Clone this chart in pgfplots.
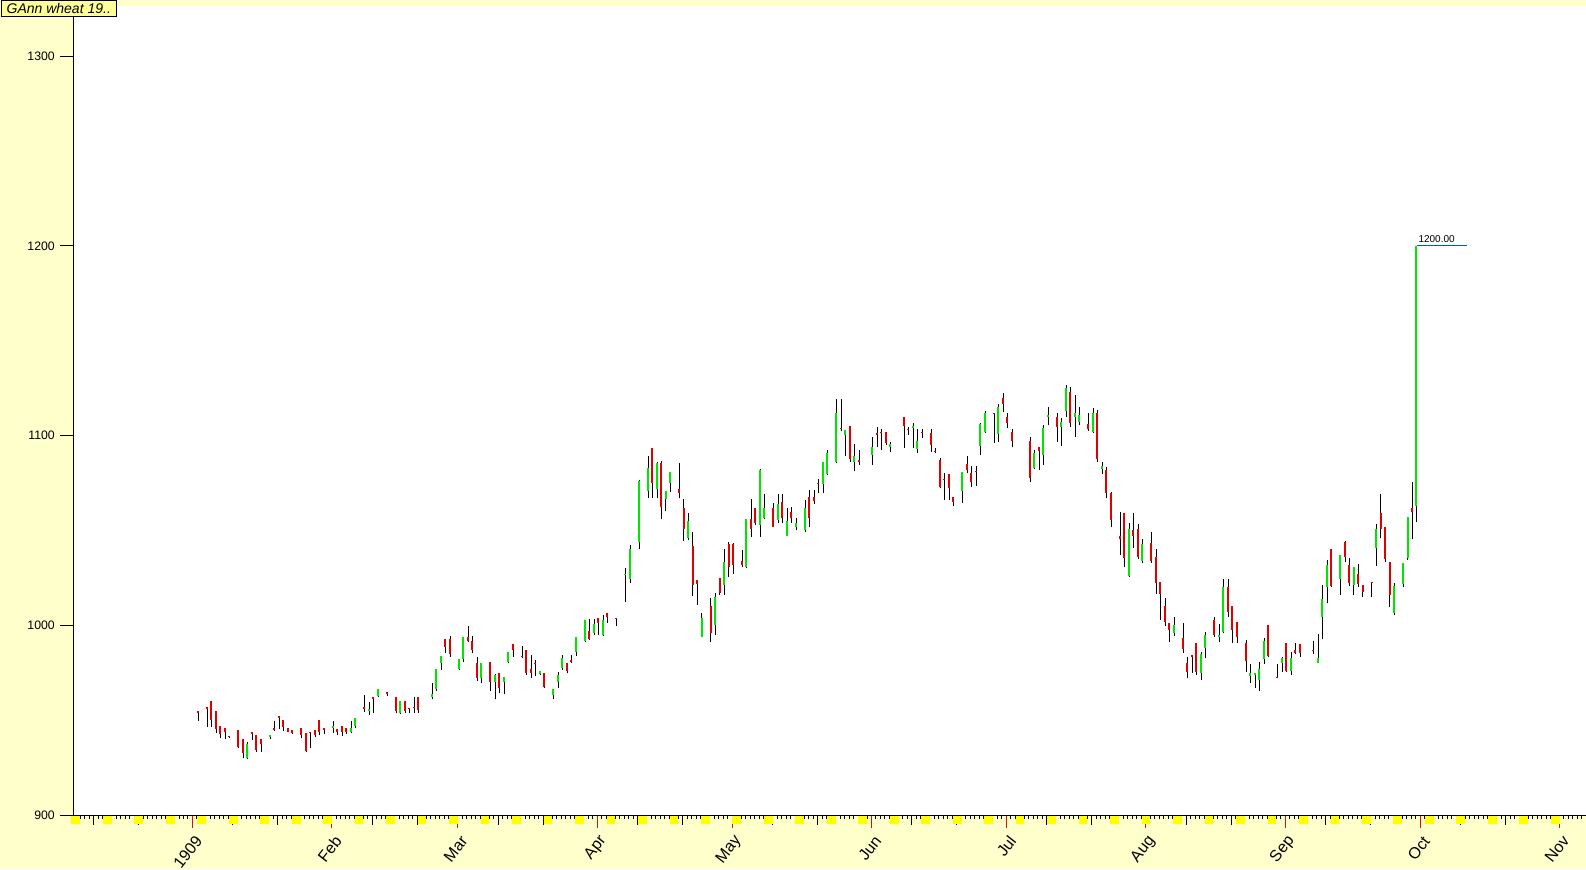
\documentclass[border=0pt]{standalone}
\usepackage{fontspec}
\setmainfont{Liberation Sans}
\usepackage{pgfplots}
\usepackage{pgfplotstable}
\pgfplotsset{compat=1.18}

\definecolor{bgyellow}{RGB}{255,255,204}
\definecolor{titleyellow}{RGB}{255,255,153}
\definecolor{sunyellow}{RGB}{255,255,0}
\definecolor{upgreen}{RGB}{0,230,0}
\definecolor{downred}{RGB}{225,0,0}
\definecolor{monthred}{RGB}{200,20,20}
\definecolor{targetline}{RGB}{0,102,128}

% day = days since 1 Jan 1909, o h l c
\pgfplotstableread{
d o h l c
1 954.8 954.8 949.7 953.9
3 956.7 957.1 946.6 956.0
4 960.1 960.1 946.6 950.1
5 954.8 954.8 943.0 945.2
6 946.9 946.9 940.8 942.5
7 945.9 945.9 939.9 943.7
8 941.9 941.9 940.8 941.2
10 944.8 944.8 935.1 935.7
11 940.1 940.1 929.9 932.5
12 929.9 938.5 929.4 937.5
13 943.6 943.6 939.5 942.8
14 942.2 942.2 933.4 934.2
15 940.1 940.1 933.4 937.2
17 941.3 942.3 939.9 942.3
18 946.0 949.5 944.3 944.8
19 952.2 952.2 945.3 951.0
20 950.1 950.1 944.4 946.2
21 945.9 945.9 943.5 943.7
22 944.8 944.8 942.8 943.0
24 945.9 945.9 940.4 942.2
25 943.2 943.2 933.2 933.7
26 943.8 943.8 935.5 943.0
27 944.8 944.8 940.9 942.2
28 950.1 950.1 942.2 943.9
29 945.9 945.9 942.7 944.8
31 945.9 949.5 943.4 946.9
32 945.2 945.2 942.0 943.7
33 946.9 946.9 941.8 943.9
34 945.7 945.7 942.7 943.7
35 943.7 949.5 943.0 945.9
36 946.9 951.1 945.7 951.1
38 957.1 963.2 954.5 955.9
39 955.0 959.7 952.7 955.9
40 962.4 962.4 953.6 961.1
41 962.7 966.2 962.0 966.2
43 964.8 965.0 962.7 964.0
45 962.3 962.3 953.5 955.0
46 953.5 960.1 953.0 960.1
47 960.1 960.1 953.5 955.0
48 956.3 956.3 954.0 955.8
49 957.0 962.3 954.0 956.5
50 962.3 962.3 954.0 955.5
53 962.4 969.4 960.9 963.6
54 966.2 976.9 965.5 976.9
55 979.9 983.9 976.4 983.9
56 992.6 992.6 985.2 988.7
57 992.6 994.3 983.4 985.0
59 976.8 982.4 976.4 982.4
60 982.0 994.0 980.8 994.0
61 994.0 999.6 991.4 991.9
62 991.9 994.3 985.2 986.9
63 980.3 983.4 970.6 972.0
64 972.0 980.3 969.7 980.3
66 980.5 980.5 965.5 970.3
67 970.3 974.3 960.9 973.8
68 974.7 974.7 964.1 966.7
69 970.3 972.6 963.6 972.6
70 980.8 986.1 979.9 986.1
71 990.1 990.1 983.4 986.9
73 983.9 989.2 982.6 983.1
74 986.9 986.9 973.8 975.0
75 976.8 984.3 972.0 975.0
76 980.3 981.7 973.3 979.6
77 974.3 976.1 973.8 976.1
78 975.0 975.0 966.7 967.3
80 963.2 966.2 960.9 966.2
81 970.3 975.5 966.7 973.8
82 977.3 984.3 976.4 982.6
83 980.3 980.3 974.7 976.1
84 981.5 984.3 979.9 980.9
85 986.1 994.0 983.8 994.0
87 991.9 1002.8 991.4 1002.8
88 997.0 1003.1 992.2 992.8
89 996.1 1003.1 994.9 1000.5
90 1003.6 1003.6 994.9 1001.4
91 994.9 1005.4 994.4 1002.8
92 1006.3 1006.3 1001.4 1004.2
94 1004.0 1004.0 999.6 1003.1
96 1026.4 1030.0 1012.4 1027.0
97 1024.2 1042.3 1022.4 1040.0
99 1044.1 1076.5 1040.0 1076.0
101 1070.8 1089.2 1066.9 1082.7
102 1093.2 1093.2 1066.9 1075.1
103 1071.6 1086.2 1066.9 1085.3
104 1085.3 1086.7 1055.8 1062.1
105 1066.4 1070.8 1060.4 1070.8
106 1075.1 1080.9 1070.4 1080.9
108 1071.6 1085.7 1066.9 1069.9
109 1061.6 1066.4 1044.6 1050.5
110 1045.8 1059.0 1044.9 1055.1
111 1041.8 1049.3 1015.6 1021.2
112 1023.8 1023.8 1010.7 1021.7
113 994.0 1006.3 993.6 1003.6
115 1010.1 1014.2 991.3 996.1
116 1000.1 1016.8 994.9 1014.7
117 1024.7 1024.7 1015.9 1016.8
118 1021.2 1040.0 1015.9 1033.5
119 1042.8 1044.0 1025.6 1030.5
120 1042.8 1043.5 1027.0 1031.8
122 1033.9 1039.7 1030.5 1031.8
123 1030.9 1055.8 1030.0 1055.8
124 1055.8 1066.4 1046.7 1050.5
125 1061.6 1061.6 1052.8 1054.1
126 1052.8 1082.2 1046.7 1081.8
127 1056.3 1069.2 1055.8 1061.6
129 1061.6 1064.3 1051.6 1052.0
130 1055.5 1069.2 1053.7 1063.9
131 1065.1 1069.2 1053.7 1056.3
132 1047.0 1061.6 1047.0 1055.1
133 1059.8 1062.5 1054.1 1056.3
134 1052.0 1056.3 1050.2 1053.7
136 1050.0 1066.0 1049.0 1061.6
137 1067.4 1071.3 1052.0 1056.3
138 1067.4 1071.3 1063.9 1065.7
139 1075.1 1076.9 1069.5 1074.3
140 1074.4 1086.2 1069.5 1086.2
141 1079.7 1092.4 1079.2 1090.6
143 1086.2 1119.1 1085.7 1111.7
144 1104.0 1119.1 1102.5 1103.2
145 1100.3 1102.9 1089.2 1102.9
146 1105.0 1105.0 1086.2 1087.4
147 1086.2 1095.5 1081.5 1089.2
148 1087.1 1092.4 1084.5 1086.2
151 1089.7 1099.0 1084.5 1093.8
152 1101.2 1104.3 1093.8 1100.5
153 1102.0 1103.2 1092.4 1101.1
154 1102.0 1102.0 1095.0 1096.2
155 1094.1 1096.7 1091.5 1095.3
158 1109.9 1109.9 1093.2 1105.0
159 1103.3 1104.7 1100.3 1102.7
160 1103.8 1106.8 1093.2 1105.0
161 1092.9 1103.2 1091.0 1097.1
162 1101.8 1103.2 1098.5 1101.2
164 1101.1 1103.2 1091.5 1095.0
165 1092.1 1093.2 1090.6 1091.5
166 1087.1 1088.0 1072.2 1072.7
167 1077.2 1080.1 1066.0 1076.6
168 1079.7 1079.7 1066.0 1072.2
169 1067.4 1067.4 1062.8 1065.1
171 1070.9 1080.9 1064.6 1080.9
172 1085.0 1089.2 1080.1 1081.8
173 1080.4 1083.9 1072.7 1075.7
174 1081.2 1083.9 1073.4 1080.6
175 1094.5 1106.8 1089.7 1106.1
176 1102.0 1113.1 1101.5 1112.0
178 1112.0 1112.0 1095.9 1111.4
179 1100.8 1116.6 1096.7 1115.2
180 1119.6 1122.2 1112.6 1116.6
181 1109.6 1111.7 1103.8 1106.4
182 1102.0 1103.3 1093.8 1097.3
186 1097.3 1099.4 1075.7 1077.4
187 1082.7 1092.4 1082.2 1090.6
188 1093.8 1093.8 1081.8 1092.0
189 1089.7 1105.5 1084.5 1103.8
190 1110.0 1115.2 1105.5 1110.8
192 1109.9 1112.0 1096.8 1104.3
193 1104.3 1109.0 1094.5 1106.9
194 1113.1 1126.6 1109.9 1124.9
195 1123.1 1125.4 1104.7 1106.4
196 1109.9 1121.3 1099.4 1112.0
197 1107.3 1115.2 1105.5 1110.8
199 1106.1 1112.0 1102.5 1103.3
200 1102.0 1114.3 1101.5 1112.0
201 1112.0 1113.4 1086.2 1087.4
202 1082.2 1086.2 1079.7 1083.9
203 1081.8 1083.2 1066.9 1069.9
204 1069.9 1070.4 1051.6 1055.5
206 1047.0 1059.9 1037.0 1045.3
207 1059.3 1059.3 1030.5 1035.3
208 1025.9 1054.1 1025.6 1050.5
209 1050.2 1059.0 1040.5 1047.2
210 1050.5 1053.4 1034.7 1036.1
211 1034.0 1045.3 1032.6 1042.8
213 1043.5 1049.3 1033.0 1034.0
214 1035.8 1040.0 1016.5 1022.1
215 1023.0 1023.0 1002.8 1016.5
216 1010.1 1014.2 999.6 1001.9
217 1001.0 1001.0 991.3 997.5
218 996.1 1004.2 994.3 1000.1
220 993.1 1001.0 985.5 987.3
221 980.3 983.1 972.0 975.5
222 984.1 984.3 974.6 983.5
223 990.8 990.8 973.8 975.5
224 974.6 986.1 971.1 984.9
225 987.8 996.6 982.6 994.9
227 1002.8 1004.6 994.0 994.9
228 994.0 1000.7 991.4 994.9
229 996.6 1024.2 995.7 1020.3
230 1020.3 1024.2 1004.6 1007.2
231 1010.1 1010.1 990.8 997.5
232 1001.9 1001.9 990.8 994.0
234 990.5 992.2 975.5 981.3
235 973.3 979.6 969.7 975.0
236 973.8 975.0 966.8 975.0
237 971.2 980.8 965.5 976.8
238 982.0 993.1 979.6 991.9
239 1000.1 1000.1 983.4 983.8
241 972.9 979.6 972.0 972.3
242 980.3 983.4 975.5 982.6
243 990.8 990.8 975.5 976.1
244 976.1 986.1 973.8 982.6
245 987.0 990.5 984.9 985.6
246 990.1 990.1 983.4 985.2
249 986.9 991.9 984.9 986.3
250 980.3 995.4 980.3 982.6
251 1004.2 1021.2 992.6 1013.7
252 1020.3 1034.4 1011.5 1031.8
253 1040.0 1040.0 1020.0 1020.7
255 1024.2 1037.0 1016.0 1037.0
256 1044.0 1044.6 1033.5 1036.1
257 1031.8 1035.3 1020.7 1022.1
258 1021.2 1030.5 1016.0 1030.5
259 1027.0 1032.3 1020.0 1021.7
260 1021.2 1021.2 1014.7 1017.7
262 1022.7 1022.7 1014.7 1022.1
263 1040.5 1053.3 1031.2 1050.5
264 1059.3 1069.2 1045.8 1050.5
265 1052.0 1052.0 1033.5 1034.7
266 1033.5 1033.5 1009.8 1016.0
267 1006.3 1022.1 1005.4 1020.7
269 1021.7 1032.6 1020.0 1032.6
270 1035.3 1056.9 1034.4 1056.9
271 1061.6 1075.7 1045.3 1059.9
272 1062.8 1200.0 1054.6 1200.0
}\candles

% Sundays, marked in yellow under the axis
\pgfplotstableread{
d y
-26 900
-19 900
-12 900
-5 900
2 900
9 900
16 900
23 900
30 900
37 900
44 900
51 900
58 900
65 900
72 900
79 900
86 900
93 900
100 900
107 900
114 900
121 900
128 900
135 900
142 900
149 900
156 900
163 900
170 900
177 900
184 900
191 900
198 900
205 900
212 900
219 900
226 900
233 900
240 900
247 900
254 900
261 900
268 900
275 900
282 900
289 900
296 900
303 900
}\sundays

\begin{document}
\begin{tikzpicture}
\path[fill=bgyellow, use as bounding box] (0,0) rectangle (1189.5pt,651.75pt);
\begin{axis}[
  at={(55pt,40.5pt)}, anchor=south west,
  scale only axis, width=1134.5pt, height=606.75pt,
  xmin=-26.5, xmax=309.9, ymin=900, ymax=1326.4,
  axis lines*=left,
  axis line style={black, line width=0.75pt},
  axis background/.style={fill=white},
  axis on top,
  tick align=outside,
  tick style={black, line width=0.75pt},
  major tick length=9.75pt, minor tick length=3pt,
  xtick={0,31,59,90,120,151,181,212,243,273,304},
  xticklabels={1909,Feb,Mar,Apr,May,Jun,Jul,Aug,Sep,Oct,Nov},
  minor xtick={-26,-25,...,309},
  major x tick style={draw=monthred},
  extra x ticks={-22,-12,9,19,40,50,68,78,99,109,129,139,160,170,190,200,221,231,252,262,282,292},
  extra x tick labels={},
  extra x tick style={major tick length=7.5pt, major x tick style={draw=black}},
  ytick={900,1000,1100,1200,1300},
  yticklabels={900,1000,1100,1200,1300},
  xticklabel style={font=\fontsize{12}{14}\selectfont, inner sep=0pt, xshift=4.8pt, yshift=-7.5pt, rotate=52, anchor=east},
  yticklabel style={font=\fontsize{9.2}{11}\selectfont, inner sep=0pt, xshift=-4pt},
]
\addplot[forget plot, only marks, mark=square*, mark size=2.9pt, color=sunyellow,
  mark options={draw=none, fill=sunyellow, yshift=-3.6pt}]
  table[x=d, y=y] {\sundays};

% wicks
\addplot[forget plot, draw=none, mark=none,
  error bars/.cd, y dir=plus, y explicit, error mark=none,
  error bar style={draw=black, line width=0.75pt}]
  table[x expr=\thisrow{d}+0.3, y=l, y error expr=\thisrow{h}-\thisrow{l}] {\candles};
% up bodies
\addplot[forget plot, draw=none, mark=none,
  restrict expr to domain={\thisrow{c}-\thisrow{o}}{0:2000},
  error bars/.cd, y dir=plus, y explicit, error mark=none,
  error bar style={draw=upgreen, line width=1.5pt}]
  table[x expr=\thisrow{d}+0.2, y=o, y error expr=\thisrow{c}-\thisrow{o}] {\candles};
% down bodies
\addplot[forget plot, draw=none, mark=none,
  restrict expr to domain={\thisrow{o}-\thisrow{c}}{0.001:2000},
  error bars/.cd, y dir=plus, y explicit, error mark=none,
  error bar style={draw=downred, line width=1.5pt}]
  table[x expr=\thisrow{d}+0.2, y=c, y error expr=\thisrow{o}-\thisrow{c}] {\candles};

\addplot[forget plot, targetline, line width=0.75pt] coordinates {(272.3,1200) (283.5,1200)};
\node[anchor=south west, inner sep=0pt, yshift=2.5pt, font=\fontsize{7.5}{9}\selectfont]
  at (axis cs:272.6,1200) {1200.00};
\end{axis}
\node[draw=black, line width=0.75pt, fill=titleyellow, anchor=north west, inner xsep=4.2pt,
  inner ysep=0pt, minimum height=12pt, font=\itshape\fontsize{10.5}{12}\selectfont]
  at (0.4pt,651.4pt) {GAnn wheat 19..};
\end{tikzpicture}
\end{document}
